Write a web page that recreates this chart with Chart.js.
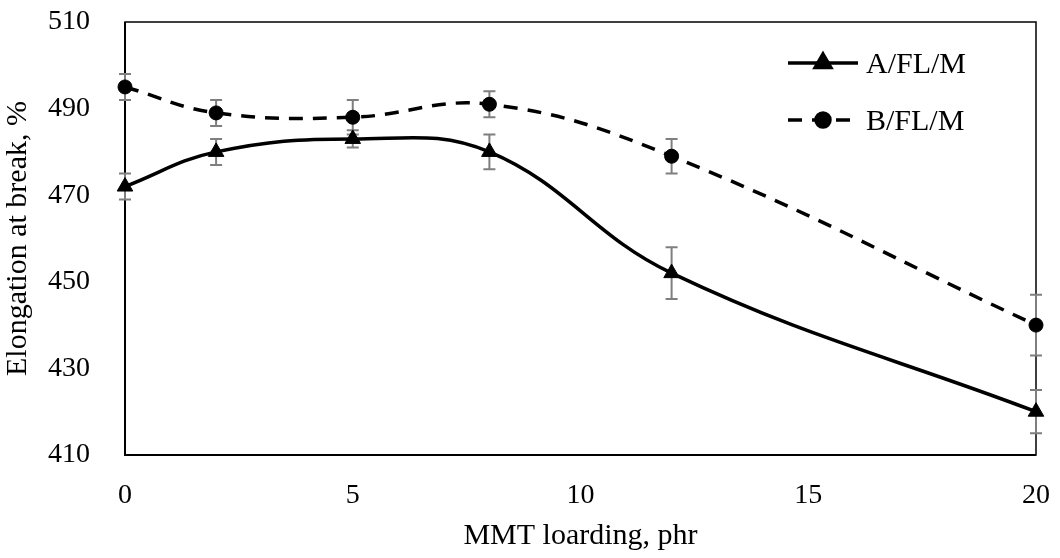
<!DOCTYPE html>
<html>
<head>
<meta charset="utf-8">
<script src="https://cdn.jsdelivr.net/npm/chart.js@4.4.1/dist/chart.umd.min.js"></script>
<style>
  html, body { margin: 0; padding: 0; background: #fff; }
  #wrap { width: 1060px; height: 558px; }
</style>
</head>
<body>
<div id="wrap"><canvas id="chart" width="1060" height="558"></canvas></div>
<script>
// ---------------- Data ----------------
const loading = [0, 2, 5, 8, 12, 20];
const seriesA = [472, 480, 483, 480, 452, 420];
const errA = [3, 3, 2, 4, 6, 5];
const seriesB = [495, 489, 488, 491, 479, 440];
const errB = [3, 3, 4, 3, 4, 7];
const seriesNames = ["A/FL/M", "B/FL/M"];
const xTicks = [0, 5, 10, 15, 20];
const yTicks = [410, 430, 450, 470, 490, 510];

const FONT = "'Liberation Serif', 'Times New Roman', serif";

// ---------------- Plugins ----------------
const errorBars = {
  id: "errorBars",
  beforeDatasetsDraw(chart) {
    const ctx = chart.ctx;
    const x = chart.scales.x, y = chart.scales.y;
    ctx.save();
    ctx.strokeStyle = "#7f7f7f";
    ctx.lineWidth = 2;
    chart.data.datasets.forEach((ds) => {
      ds.data.forEach((p, i) => {
        const e = ds.errors[i];
        const px = x.getPixelForValue(p.x);
        const top = y.getPixelForValue(p.y + e);
        const bot = y.getPixelForValue(p.y - e);
        ctx.beginPath();
        ctx.moveTo(px, top); ctx.lineTo(px, bot);
        ctx.moveTo(px - 6, top); ctx.lineTo(px + 6, top);
        ctx.moveTo(px - 6, bot); ctx.lineTo(px + 6, bot);
        ctx.stroke();
      });
    });
    ctx.restore();
  },
};

const frame = {
  id: "frame",
  beforeDatasetsDraw(chart) {
    const { ctx, chartArea: a } = chart;
    ctx.save();
    ctx.strokeStyle = "#000";
    ctx.lineWidth = 1.5;
    ctx.strokeRect(a.left, a.top, a.right - a.left, a.bottom - a.top);
    ctx.lineWidth = 2;
    ctx.beginPath();
    ctx.moveTo(a.left, a.top); ctx.lineTo(a.left, a.bottom); ctx.lineTo(a.right, a.bottom);
    ctx.stroke();
    ctx.restore();
  },
};

const insideLegend = {
  id: "insideLegend",
  afterDraw(chart) {
    const { ctx, chartArea: a } = chart;
    ctx.save();
    chart.data.datasets.forEach((ds, i) => {
      const ly = a.top + 41 + i * 57;
      const x0 = a.right - 248, x1 = a.right - 178;
      ctx.strokeStyle = "#000";
      ctx.lineWidth = ds.borderWidth;
      ctx.setLineDash(ds.borderDash || []);
      ctx.beginPath();
      ctx.moveTo(x0, ly); ctx.lineTo(x1, ly);
      ctx.stroke();
      ctx.setLineDash([]);
      ctx.fillStyle = "#000";
      ctx.strokeStyle = "#000";
      Chart.helpers.drawPoint(ctx, {
        pointStyle: ds.pointStyle, radius: ds.pointRadius, borderWidth: 1,
      }, (x0 + x1) / 2, ly);
      ctx.font = "30px " + FONT;
      ctx.textBaseline = "middle";
      ctx.fillText(ds.label, x1 + 8, ly + 2);
    });
    ctx.restore();
  },
};

// ---------------- Chart ----------------
const toPoints = (vals) => vals.map((v, i) => ({ x: loading[i], y: v }));

const ctx = document.getElementById("chart").getContext("2d");
ctx.canvas.style.width = "1060px";
ctx.canvas.style.height = "558px";

new Chart(ctx, {
  type: "line",
  data: {
    datasets: [
      {
        label: seriesNames[0],
        data: toPoints(seriesA),
        errors: errA,
        borderColor: "#000",
        backgroundColor: "#000",
        borderWidth: 3.5,
        pointStyle: "triangle",
        pointRadius: 9,
        pointBorderWidth: 1,
        tension: 0.4,
        clip: false,
      },
      {
        label: seriesNames[1],
        data: toPoints(seriesB),
        errors: errB,
        borderColor: "#000",
        backgroundColor: "#000",
        borderWidth: 3.5,
        borderDash: [14, 10],
        pointStyle: "circle",
        pointRadius: 7,
        pointBorderWidth: 1,
        tension: 0.4,
        clip: false,
      },
    ],
  },
  options: {
    responsive: false,
    animation: false,
    events: [],
    layout: { padding: { top: 22, right: 24, left: 0, bottom: 0 } },
    plugins: { legend: { display: false }, tooltip: { enabled: false } },
    scales: {
      x: {
        type: "linear",
        min: xTicks[0],
        max: xTicks[xTicks.length - 1],
        afterBuildTicks: (s) => { s.ticks = xTicks.map((v) => ({ value: v })); },
        afterFit: (s) => { s.height = 103; s.paddingLeft = 0; s.paddingRight = 0; },
        grid: { display: false, drawTicks: false },
        border: { display: false },
        ticks: { color: "#000", padding: 24, font: { family: FONT, size: 28 } },
        title: {
          display: true, text: "MMT loarding, phr", color: "#000",
          font: { family: FONT, size: 30 }, padding: { top: 6 },
        },
      },
      y: {
        type: "linear",
        min: yTicks[0],
        max: yTicks[yTicks.length - 1],
        afterBuildTicks: (s) => { s.ticks = yTicks.map((v) => ({ value: v })); },
        afterFit: (s) => { s.width = 125; s.paddingTop = 0; s.paddingBottom = 0; },
        grid: { display: false, drawTicks: false },
        border: { display: false },
        ticks: { color: "#000", padding: 35, font: { family: FONT, size: 28 } },
        title: {
          display: true, text: "Elongation at break, %", color: "#000",
          font: { family: FONT, size: 30 }, padding: { top: 0, bottom: 0 },
        },
      },
    },
  },
  plugins: [frame, errorBars, insideLegend],
});
</script>
</body>
</html>
